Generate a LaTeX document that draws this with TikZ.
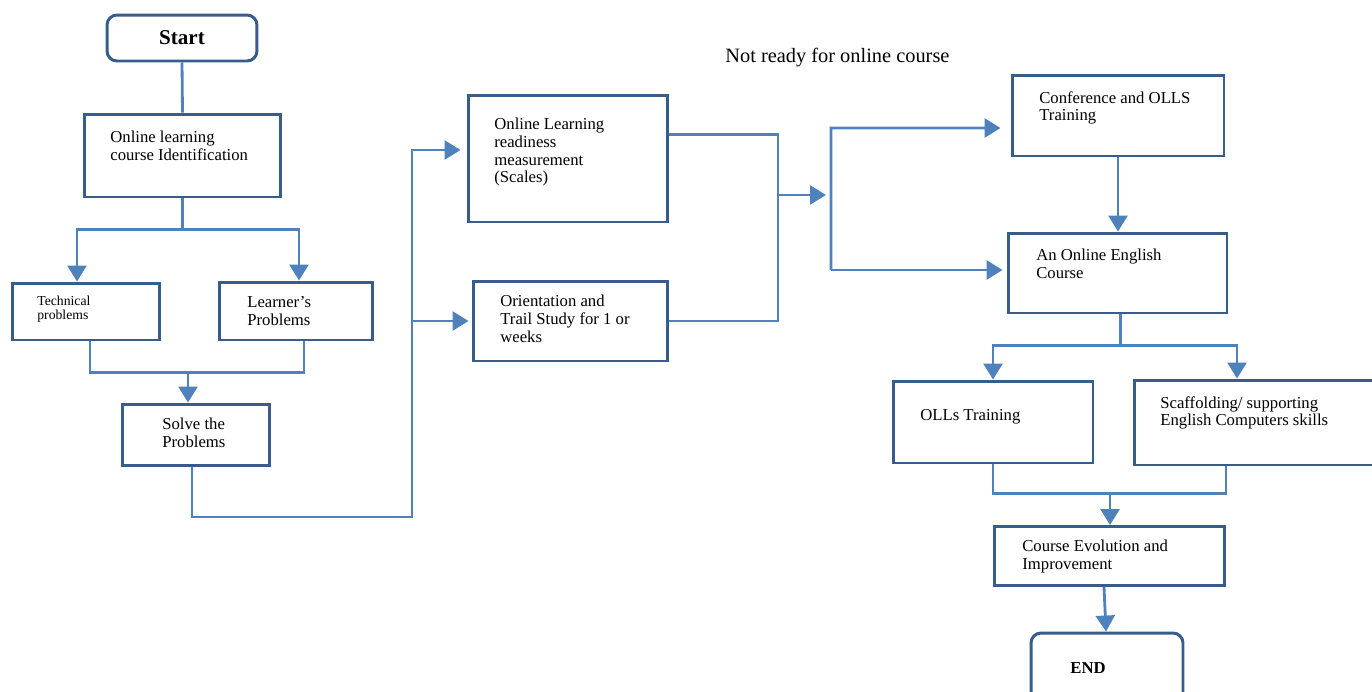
\documentclass[tikz,border=0pt]{standalone}
\usepackage{fontspec}
\setmainfont{Liberation Serif}
\usetikzlibrary{arrows.meta,positioning}
\definecolor{boxblue}{RGB}{56,93,138}
\definecolor{lineblue}{RGB}{79,129,189}
\tikzset{>={Triangle[width=0.38cm,length=0.32cm]}}
\tikzset{
  box/.style={draw=boxblue, line width=1.7pt, inner sep=0pt},
  endbox/.style={box, rounded corners=0.2cm},
  txt/.style={anchor=north west, inner sep=0pt, align=left,
    font=\fontsize{9.5}{10}\selectfont},
  smalltxt/.style={txt, font=\fontsize{7.8}{7.6}\selectfont},
  conn/.style={draw=lineblue, line width=1.6pt},
  arr/.style={conn, ->},
}

\begin{document}
\begin{tikzpicture}[x=0.02cm, y=-0.02cm]
  \useasboundingbox (0,0) rectangle (1372,691);

  % left column
  \node[endbox, minimum width=3cm, minimum height=0.92cm,
    font=\bfseries\fontsize{12}{14}\selectfont] (start) at (182,38) {Start};
  \node[box, minimum width=3.92cm, minimum height=1.66cm] (ident) at (182.5,155.5) {};
  \node[txt] (identT) at (110,131) {Online learning\\course Identification};
  \node[box, minimum width=2.96cm, minimum height=1.14cm] (tech) at (86,311.5) {};
  \node[smalltxt] (techT) at (37,296) {Technical\\problems};
  \node[box, minimum width=3.06cm, minimum height=1.16cm] (learn) at (296,311) {};
  \node[txt] (learnT) at (247,296) {Learner’s\\Problems};
  \node[box, minimum width=2.96cm, minimum height=1.22cm] (solve) at (196,434.5) {};
  \node[txt] (solveT) at (162,418) {Solve the\\Problems};

  % middle column
  \node[box, minimum width=4cm, minimum height=2.54cm] (olr) at (568,158.5) {};
  \node[txt] (olrT) at (494,118) {Online Learning\\readiness\\measurement\\(Scales)};
  \node[box, minimum width=3.9cm, minimum height=1.6cm] (orient) at (570.5,321) {};
  \node[txt] (orientT) at (500,295) {Orientation and\\Trail Study for 1 or\\weeks};
  \node[anchor=west, inner sep=0pt, font=\fontsize{11.6}{13}\selectfont] (note)
    at (725,58) {Not ready for online course};

  % right column
  \node[box, minimum width=4.24cm, minimum height=1.62cm] (conf) at (1118,115.5) {};
  \node[txt] (confT) at (1039,91) {Conference and OLLS\\Training};
  \node[box, minimum width=4.38cm, minimum height=1.6cm] (eng) at (1117.5,273) {};
  \node[txt] (engT) at (1036,249) {An Online English\\Course};
  \node[box, minimum width=4cm, minimum height=1.64cm] (olls) at (993,422) {};
  \node[txt] (ollsT) at (920,409) {OLLs Training};
  \node[box, minimum width=4.92cm, minimum height=1.7cm] (scaf) at (1257,422.5) {};
  \node[txt] (scafT) at (1160,396) {Scaffolding/ supporting\\English Computers skills};
  \node[box, minimum width=4.6cm, minimum height=1.18cm] (eval) at (1109.5,556) {};
  \node[txt] (evalT) at (1022,540) {Course Evolution and\\Improvement};
  \node[endbox, minimum width=3.04cm, minimum height=1.4cm] (finish) at (1107,668) {};
  \node[inner sep=0pt, font=\bfseries\fontsize{9.5}{11}\selectfont] (finishT)
    at (1088,668) {END};

  % connectors, left
  \draw[conn] (start.south) -- (ident.north);
  \draw[conn] (ident.south) -- ++(0,31) coordinate (split1);
  \draw[arr] (split1) -| ([shift={(-9,0)}]tech.north);
  \draw[arr] (split1) -| ([shift={(3,0)}]learn.north);
  \draw[conn] ([shift={(4,0)}]tech.south) -- ++(0,31) coordinate (merge1)
    -| ([shift={(8,0)}]learn.south);
  \coordinate (solveIn) at ([shift={(-8,0)}]solve.north);
  \draw[arr] (solveIn |- merge1) -- (solveIn);

  % connectors, middle
  \coordinate (bus1) at (412,517);
  \draw[arr] ([shift={(-4,0)}]solve.south) |- (bus1) |- ([shift={(-6,-8.5)}]olr.west);
  \draw[arr] (bus1 |- orient.west) -- ([shift={(-3,0)}]orient.west);
  \coordinate (join1) at (778,195);
  \draw[conn] ([shift={(0,-24)}]olr.east) -| (join1) |- (orient.east);
  \draw[arr] (join1) -- ++(48,0) coordinate (join1end);

  % connectors, right
  \coordinate (bus2top) at (831,128);
  \coordinate (bus2bot) at (831,270);
  \draw[arr] (bus2bot) -- (bus2top) -- ([shift={(-10,12.5)}]conf.west);
  \draw[arr] (bus2bot) -- ([shift={(-4,-3)}]eng.west);
  \draw[arr] (conf.south) -- (conf.south |- eng.north);
  \draw[conn] ([shift={(3,0)}]eng.south) -- ++(0,31) coordinate (split2);
  \draw[arr] (split2) -| (olls.north);
  \draw[arr] (split2) -| ([shift={(-20,0)}]scaf.north);
  \draw[conn] (olls.south) -- ++(0,29) coordinate (merge2)
    -| ([shift={(-31,0)}]scaf.south);
  \coordinate (evalIn) at ([shift={(0.5,0)}]eval.north);
  \draw[arr] (evalIn |- merge2) -- (evalIn);
  \draw[arr] ([shift={(-5.5,0)}]eval.south) -- ([shift={(-1,0)}]finish.north);
\end{tikzpicture}
\end{document}
